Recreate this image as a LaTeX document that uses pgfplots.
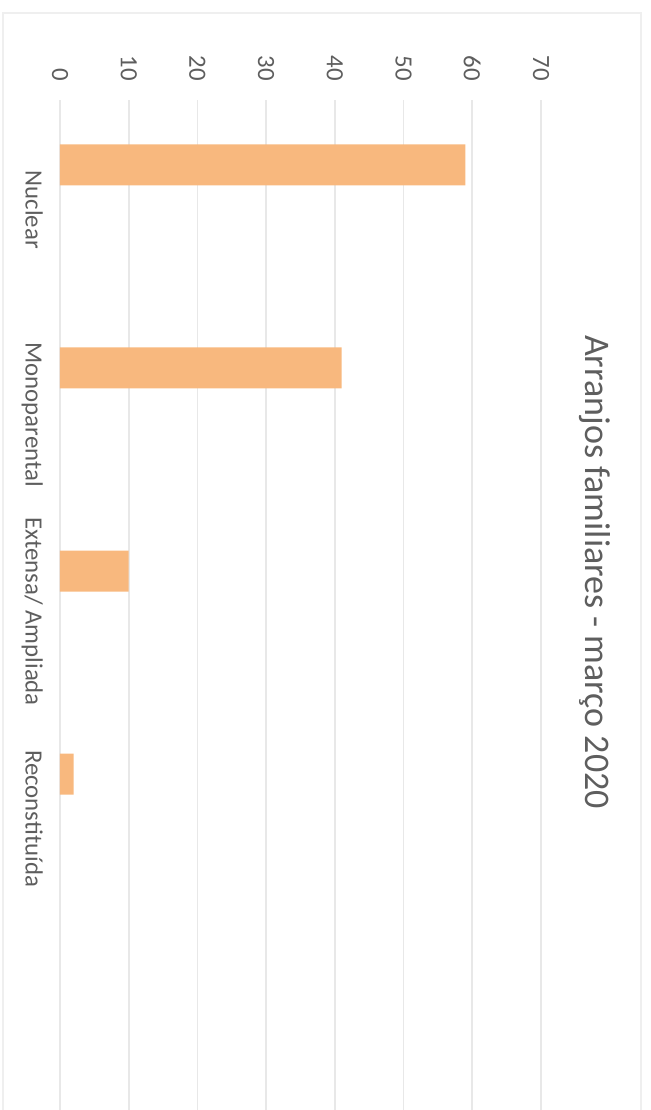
\documentclass[border=0pt]{standalone}
\usepackage{fontspec}
\setmainfont{Carlito}
\usepackage{pgfplots}
\pgfplotsset{compat=1.18}
\definecolor{barorange}{HTML}{F8B87E}
\definecolor{gridgray}{HTML}{E8E8E8}
\definecolor{framegray}{HTML}{EFEFEF}
\definecolor{textgray}{HTML}{5E5E5E}

\begin{document}
\begin{tikzpicture}
% picture is 651 x 1110 px at 0.5pt per px; the chart is turned a quarter clockwise
\useasboundingbox (0,0) rectangle (325.5pt,555pt);
\draw[framegray, line width=0.8pt] (1.5pt,-2pt) -- (1.5pt,548.5pt) -- (320.5pt,548.5pt) -- (320.5pt,-2pt);
\begin{axis}[
  at={(30pt,0pt)}, anchor=south west,
  scale only axis, width=240.5pt, height=505pt,
  xbar, bar width=20.5pt,
  xmin=0, xmax=70, ymin=-0.32, ymax=4.655,
  y dir=reverse,
  xtick={0,10,...,70},
  ytick={0.22,1.23,2.2,3.22},
  yticklabels={Nuclear,Monoparental,Extensa/ Ampliada,Reconstituída},
  xticklabel pos=upper,
  major tick length=0pt,
  axis line style={draw=none},
  xmajorgrids, grid style={gridgray, line width=0.8pt},
  /pgf/number format/assume math mode=true,
  tick label style={text=textgray, font=\fontsize{12.4}{14}\selectfont},
  xticklabel style={rotate=-90, anchor=east},
  xticklabel shift=6pt,
  yticklabel style={rotate=-90, anchor=north},
  yticklabel shift=5pt,
]
\addplot[fill=barorange, draw=none] coordinates {(59,0) (41,1) (10,2) (2,3)};
\end{axis}
\node[rotate=-90, text=textgray, font=\fontsize{18}{21}\selectfont] at (297.5pt,269pt) {Arranjos familiares - março 2020};
\end{tikzpicture}
\end{document}
